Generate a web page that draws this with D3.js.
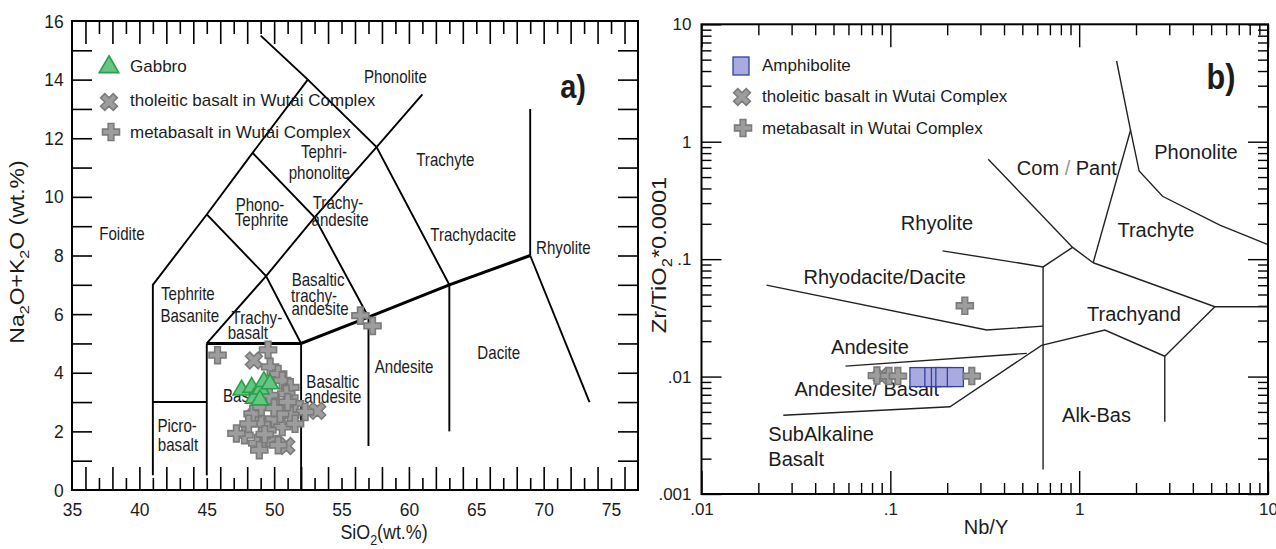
<!DOCTYPE html>
<html>
<head>
<meta charset="utf-8">
<script src="https://cdn.jsdelivr.net/npm/d3@7/dist/d3.min.js"></script>
<style>
    body { margin: 0; background: #fff; }
    svg { display: block; font-family: "Liberation Sans", Arial, sans-serif; }
</style>
</head>
<body>
<svg id="chart" width="1276" height="549"></svg>
<script>
// ---------- panel a) : TAS diagram ----------
const sio2Ticks = [35, 40, 45, 50, 55, 60, 65, 70, 75];
const alkaliTicks = [0, 2, 4, 6, 8, 10, 12, 14, 16];

// field boundaries as [SiO2, Na2O+K2O]
const tasFieldLines = [
    [[41, 0.5], [41, 7], [45, 9.4], [48.4, 11.5], [52.5, 14], [49, 15.5]],
    [[41, 3], [45, 3]],
    [[45, 0.5], [45, 5]],
    [[52, 5], [52, 0]],
    [[45, 5], [49.4, 7.3], [53, 9.3], [57.6, 11.7], [61, 13.5]],
    [[45, 9.4], [49.4, 7.3], [52, 5]],
    [[48.4, 11.5], [53, 9.3], [57, 5.9]],
    [[52.5, 14], [57.6, 11.7], [63, 7]],
    [[57, 5.9], [57, 1.5]],
    [[63, 7], [63, 2]],
    [[69, 8], [69, 13]],
    [[69, 8], [73.4, 3]]
];
const tasThickLines = [
    [[45, 5], [52, 5], [57, 5.9], [63, 7], [69, 8]]
];

const tasFieldNames = [
    ["Foidite", 38.7, 8.73],
    ["Phonolite", 59.0, 14.1],
    ["Tephri-", 53.7, 11.55],
    ["phonolite", 53.35, 10.81],
    ["Phono-", 48.95, 9.73],
    ["Tephrite", 49.07, 9.22],
    ["Trachyte", 62.7, 11.26],
    ["Trachy-", 54.74, 9.8],
    ["andesite", 54.89, 9.22],
    ["Trachydacite", 64.77, 8.7],
    ["Rhyolite", 71.46, 8.26],
    ["Tephrite", 43.6, 6.69],
    ["Basanite", 43.74, 5.94],
    ["Basaltic", 53.26, 7.17],
    ["trachy-", 52.96, 6.62],
    ["andesite", 53.4, 6.18],
    ["Trachy-", 48.72, 5.89],
    ["basalt", 48.05, 5.38],
    ["Basaltic", 54.35, 3.69],
    ["andesite", 54.35, 3.19],
    ["Andesite", 59.64, 4.2],
    ["Dacite", 66.67, 4.7],
    ["Picro-", 42.8, 2.21],
    ["basalt", 42.86, 1.53],
    ["Basalt", 47.76, 3.23]
];

const gabbro = [
    [47.58, 3.41], [48.33, 3.5], [48.5, 3.13], [49.0, 3.44],
    [49.24, 3.7], [49.69, 3.62], [48.94, 3.07]
];
const tholeiiteTas = [[48.5, 4.42], [53.2, 2.7], [50.9, 1.5], [48.5, 2.5]];
const metabasaltTas = [
    [45.8, 4.6], [49.55, 4.78], [49.7, 4.2], [50.3, 3.96], [50.6, 3.74], [51.2, 3.5],
    [50.9, 3.28], [51.55, 2.95], [52.3, 2.66], [47.8, 1.87], [49.05, 2.26], [50.0, 2.43],
    [50.6, 2.15], [51.2, 2.55], [51.55, 2.26], [48.75, 1.6], [49.65, 1.76], [50.3, 1.53],
    [48.9, 1.36], [48.4, 2.6], [49.05, 2.83], [50.15, 3.0], [49.65, 3.23], [50.45, 2.6],
    [49.5, 2.04], [48.1, 2.26], [47.2, 1.93], [51.0, 3.0], [50.0, 2.8], [49.3, 1.9],
    [56.4, 5.95], [57.3, 5.6]
];

// ---------- panel b) : Zr/TiO2 vs Nb/Y ----------
const nbyTicks = [0.01, 0.1, 1, 10];
const nbyTickLabels = [".01", ".1", "1", "10"];
const zrTicks = [0.001, 0.01, 0.1, 1, 10];
const zrTickLabels = [".001", ".01", ".1", "1", "10"];

// field boundaries as [Nb/Y, Zr/TiO2*0.0001]
const wfFieldLines = [
    [[0.0221, 0.0601], [0.3236, 0.0249], [0.644, 0.0269]],
    [[0.644, 0.0859], [0.644, 0.00162]],
    [[0.189, 0.1177], [0.644, 0.0859], [0.923, 0.126]],
    [[0.33, 0.709], [0.923, 0.126], [1.186, 0.0932]],
    [[1.186, 0.0932], [1.871, 1.253]],
    [[1.578, 4.87], [1.871, 1.253], [2.078, 0.563], [2.763, 0.343], [5.56, 0.1945], [10, 0.133]],
    [[1.186, 0.0932], [5.23, 0.0393], [10, 0.0393]],
    [[5.23, 0.0393], [2.84, 0.0149], [2.84, 0.00412]],
    [[0.0271, 0.00468], [0.207, 0.00553], [0.632, 0.01845], [1.368, 0.0249], [2.84, 0.0149]],
    [[0.0579, 0.01227], [0.528, 0.01575]]
];

const wfFieldNames = [
    ["Phonolite", 4.15, 0.815, "middle"],
    ["Trachyte", 2.55, 0.1766, "middle"],
    ["Rhyolite", 0.1766, 0.2037, "middle"],
    ["Rhyodacite/Dacite", 0.0933, 0.0706, "middle"],
    ["Trachyand", 1.95, 0.034, "middle"],
    ["Andesite", 0.078, 0.0177, "middle"],
    ["Andesite/ Basalt", 0.075, 0.00778, "middle"],
    ["Alk-Bas", 1.236, 0.0047, "middle"],
    ["SubAlkaline", 0.0226, 0.00324, "start"],
    ["Basalt", 0.0226, 0.00197, "start"]
];

const amphibolite = [[0.140, 0.0099], [0.168, 0.0099], [0.182, 0.0099], [0.192, 0.0099], [0.221, 0.0099]];
const tholeiiteWf = [[0.090, 0.0101]];
const metabasaltWf = [[0.0849, 0.0102], [0.0984, 0.0101], [0.1096, 0.0101], [0.270, 0.0101], [0.248, 0.0401]];

const legendA = ["Gabbro", "tholeitic basalt in Wutai Complex", "metabasalt in Wutai Complex"];
const legendB = ["Amphibolite", "tholeitic basalt in Wutai Complex", "metabasalt in Wutai Complex"];

// ---------- drawing ----------
const GREEN = "#66c583", GREEN_LINE = "#27a047";
const GRAY = "#9d9d9d", GRAY_LINE = "#7b7b7b";
const AMPH = "#a9aadf", AMPH_LINE = "#3040a4";
const INK = "#1c1c1c";

const svg = d3.select("#chart");

const plusSym = d3.symbol(d3.symbolCross, 160)();
const xSym = d3.symbol(d3.symbolCross, 175)();
const triSym = d3.symbol(d3.symbolTriangle, 125)();
const triSymBig = d3.symbol(d3.symbolTriangle, 165)();

// text with optional subscripts: parts = [[text, isSub, colour], ...]
function addText(g, parts, x, y, o) {
    const size = o.size;
    const t = g.append("text")
        .attr("transform", `translate(${x},${y}) rotate(${o.rotate || 0}) scale(${o.sx || 1},${o.sy || 1})`)
        .attr("text-anchor", o.anchor || "middle")
        .attr("font-size", size)
        .attr("font-weight", o.bold ? "bold" : null)
        .attr("fill", INK)
        .attr("y", size * 0.35);
    if (typeof parts === "string") parts = [[parts]];
    let shift = 0;
    parts.forEach(([str, sub, colour]) => {
        const want = sub ? size * 0.28 : 0;
        t.append("tspan")
            .attr("dy", want - shift)
            .attr("font-size", sub ? size * 0.7 : null)
            .attr("fill", colour || null)
            .text(str);
        shift = want;
    });
    return t;
}

function tickAxis(g, axis, tx, ty, width) {
    g.append("g")
        .attr("transform", `translate(${tx},${ty})`)
        .call(axis)
        .call(a => a.select(".domain").remove())
        .call(a => a.selectAll("line").attr("stroke", "#000").attr("stroke-width", width));
}

function labelAxis(g, axis, tx, ty, size, sx) {
    g.append("g")
        .attr("transform", `translate(${tx},${ty})`)
        .call(axis)
        .attr("font-family", null)
        .attr("font-size", size)
        .call(a => a.select(".domain").remove())
        .call(a => a.selectAll("text").attr("fill", INK).attr("transform", `scale(${sx},1)`));
}

function drawPoints(g, data, x, y, sym, fill, stroke, rot) {
    g.append("g").selectAll("path")
        .data(data)
        .join("path")
            .attr("transform", d => `translate(${x(d[0])},${y(d[1])}) rotate(${rot || 0})`)
            .attr("d", sym)
            .attr("fill", fill)
            .attr("stroke", stroke)
            .attr("stroke-width", 1.6);
}

// ===== panel a =====
const tasX = d3.scaleLinear().domain([35, 77]).range([72, 638]);
const tasY = d3.scaleLinear().domain([0, 16]).range([490, 21]);
const gA = svg.append("g");

const evens = d3.range(36, 77, 2), odds = d3.range(37, 77, 2), units = d3.range(1, 16);
const blank = () => "";
tickAxis(gA, d3.axisBottom(tasX).tickValues(evens).tickSize(-23).tickFormat(blank), 0, tasY(0), 1.6);
tickAxis(gA, d3.axisBottom(tasX).tickValues(odds).tickSize(-12).tickFormat(blank), 0, tasY(0), 1.6);
tickAxis(gA, d3.axisTop(tasX).tickValues(evens).tickSize(-23).tickFormat(blank), 0, tasY(16), 1.6);
tickAxis(gA, d3.axisTop(tasX).tickValues(odds).tickSize(-13).tickFormat(blank), 0, tasY(16), 1.6);
tickAxis(gA, d3.axisLeft(tasY).tickValues(units).tickSize(-20).tickFormat(blank), tasX(35), 0, 1.6);
tickAxis(gA, d3.axisRight(tasY).tickValues(units).tickSize(-20).tickFormat(blank), tasX(77), 0, 1.6);

labelAxis(gA, d3.axisBottom(tasX).tickValues(sio2Ticks).tickSize(0).tickPadding(13), 0, tasY(0), 19, 0.92);
labelAxis(gA, d3.axisLeft(tasY).tickValues(alkaliTicks).tickSize(0).tickPadding(9), tasX(35), 0, 19, 0.92);

const tasLine = d3.line().x(d => tasX(d[0])).y(d => tasY(d[1]));
gA.append("g").selectAll("path")
    .data(tasFieldLines)
    .join("path")
        .attr("d", tasLine)
        .attr("fill", "none")
        .attr("stroke", "#000")
        .attr("stroke-width", 1.9);
gA.append("g").selectAll("path")
    .data(tasThickLines)
    .join("path")
        .attr("d", tasLine)
        .attr("fill", "none")
        .attr("stroke", "#000")
        .attr("stroke-width", 3);

tasFieldNames.forEach(([name, sx, ak]) =>
    addText(gA, name, tasX(sx), tasY(ak), { size: 18, sx: 0.84 }));

gA.append("rect")
    .attr("x", tasX(35)).attr("y", tasY(16))
    .attr("width", tasX(77) - tasX(35)).attr("height", tasY(0) - tasY(16))
    .attr("fill", "none").attr("stroke", "#000").attr("stroke-width", 2);

drawPoints(gA, tholeiiteTas, tasX, tasY, xSym, GRAY, GRAY_LINE, 45);
drawPoints(gA, metabasaltTas, tasX, tasY, plusSym, GRAY, GRAY_LINE);
drawPoints(gA, gabbro, tasX, tasY, triSym, GREEN, GREEN_LINE);

// legend a
gA.append("path").attr("transform", "translate(109,67)").attr("d", triSymBig)
    .attr("fill", GREEN).attr("stroke", GREEN_LINE).attr("stroke-width", 1.6);
gA.append("path").attr("transform", "translate(109,102) rotate(45)").attr("d", xSym)
    .attr("fill", GRAY).attr("stroke", GRAY_LINE).attr("stroke-width", 1.6);
gA.append("path").attr("transform", "translate(111,132)").attr("d", plusSym)
    .attr("fill", GRAY).attr("stroke", GRAY_LINE).attr("stroke-width", 1.6);
legendA.forEach((name, i) =>
    addText(gA, name, 130, [66.5, 100, 132][i], { size: 17, anchor: "start" }));

addText(gA, [["SiO"], ["2", true], ["(wt.%)"]], 384, 532, { size: 21, sx: 0.85 });
addText(gA, [["Na"], ["2", true], ["O+K"], ["2", true], ["O (wt.%)"]], 17, 252,
    { size: 23, rotate: -90, sy: 0.85 });
addText(gA, "a)", 573, 86, { size: 34, bold: true, sx: 0.85 });

// ===== panel b =====
const nbX = d3.scaleLog().domain([0.01, 10]).range([701.5, 1268]);
const zrY = d3.scaleLog().domain([0.001, 10]).range([494, 24.3]);
const gB = svg.append("g");

const isDecade = d => Math.abs(Math.log10(d) - Math.round(Math.log10(d))) < 1e-6;
const xMajor = nbX.ticks().filter(isDecade), xMinor = nbX.ticks().filter(d => !isDecade(d));
const yMajor = zrY.ticks().filter(isDecade), yMinor = zrY.ticks().filter(d => !isDecade(d));

tickAxis(gB, d3.axisBottom(nbX).tickValues(xMajor).tickSize(-23).tickFormat(blank), 0, zrY(0.001), 1.4);
tickAxis(gB, d3.axisBottom(nbX).tickValues(xMinor).tickSize(-11).tickFormat(blank), 0, zrY(0.001), 1.4);
tickAxis(gB, d3.axisTop(nbX).tickValues(xMajor).tickSize(-23).tickFormat(blank), 0, zrY(10), 1.4);
tickAxis(gB, d3.axisTop(nbX).tickValues(xMinor).tickSize(-11).tickFormat(blank), 0, zrY(10), 1.4);
tickAxis(gB, d3.axisLeft(zrY).tickValues(yMajor).tickSize(-20).tickFormat(blank), nbX(0.01), 0, 1.4);
tickAxis(gB, d3.axisLeft(zrY).tickValues(yMinor).tickSize(-10).tickFormat(blank), nbX(0.01), 0, 1.4);
tickAxis(gB, d3.axisRight(zrY).tickValues(yMajor).tickSize(-20).tickFormat(blank), nbX(10), 0, 1.4);
tickAxis(gB, d3.axisRight(zrY).tickValues(yMinor).tickSize(-10).tickFormat(blank), nbX(10), 0, 1.4);

labelAxis(gB, d3.axisBottom(nbX).tickValues(nbyTicks).tickFormat((d, i) => nbyTickLabels[i])
    .tickSize(0).tickPadding(9), 0, zrY(0.001), 17, 1);
labelAxis(gB, d3.axisLeft(zrY).tickValues(zrTicks).tickFormat((d, i) => zrTickLabels[i])
    .tickSize(0).tickPadding(10), nbX(0.01), 0, 17, 1);

const wfLine = d3.line().x(d => nbX(d[0])).y(d => zrY(d[1]));
gB.append("g").selectAll("path")
    .data(wfFieldLines)
    .join("path")
        .attr("d", wfLine)
        .attr("fill", "none")
        .attr("stroke", "#222")
        .attr("stroke-width", 1.4);

wfFieldNames.forEach(([name, nb, zr, anchor]) =>
    addText(gB, name, nbX(nb), zrY(zr), { size: 20, anchor: anchor }));
addText(gB, [["Com"], [" / ", false, "#999"], ["Pant"]], nbX(0.861), zrY(0.594), { size: 20 });

gB.append("rect")
    .attr("x", nbX(0.01)).attr("y", zrY(10))
    .attr("width", nbX(10) - nbX(0.01)).attr("height", zrY(0.001) - zrY(10))
    .attr("fill", "none").attr("stroke", "#000").attr("stroke-width", 2);

gB.append("g").selectAll("rect")
    .data(amphibolite)
    .join("rect")
        .attr("x", d => nbX(d[0]) - 8)
        .attr("y", d => zrY(d[1]) - 9.5)
        .attr("width", 16)
        .attr("height", 19)
        .attr("fill", AMPH)
        .attr("stroke", AMPH_LINE)
        .attr("stroke-width", 1.3);
drawPoints(gB, tholeiiteWf, nbX, zrY, xSym, GRAY, GRAY_LINE, 45);
drawPoints(gB, metabasaltWf, nbX, zrY, plusSym, GRAY, GRAY_LINE);

// legend b
gB.append("rect").attr("x", 733).attr("y", 57).attr("width", 16).attr("height", 18)
    .attr("fill", AMPH).attr("stroke", AMPH_LINE).attr("stroke-width", 1.3);
gB.append("path").attr("transform", "translate(742,97) rotate(45)").attr("d", xSym)
    .attr("fill", GRAY).attr("stroke", GRAY_LINE).attr("stroke-width", 1.6);
gB.append("path").attr("transform", "translate(743,128)").attr("d", plusSym)
    .attr("fill", GRAY).attr("stroke", GRAY_LINE).attr("stroke-width", 1.6);
legendB.forEach((name, i) =>
    addText(gB, name, 762, [65.5, 96.5, 128][i], { size: 17, anchor: "start" }));

addText(gB, "Nb/Y", 986, 527, { size: 20 });
addText(gB, [["Zr/TiO"], ["2", true], ["*0.0001"]], 659, 255, { size: 20, rotate: -90, sx: 1.18 });
addText(gB, "b)", 1221, 76, { size: 36, bold: true, sx: 0.85 });
</script>
</body>
</html>
